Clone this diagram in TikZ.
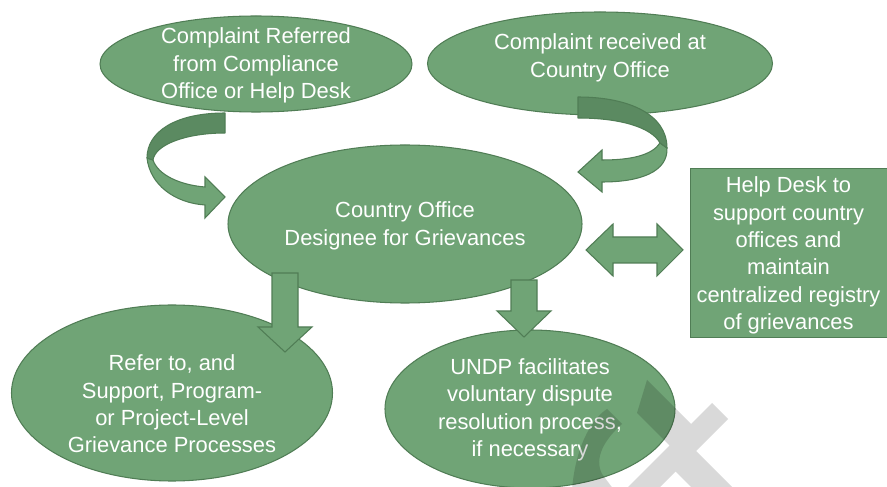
\documentclass[tikz,border=0pt]{standalone}
\usepackage{fontspec}
\setmainfont{Liberation Sans}
\usetikzlibrary{shapes.geometric}
\definecolor{gfill}{HTML}{70A476}
\definecolor{gline}{HTML}{507D55}
\definecolor{gdark}{HTML}{5B8A61}
\tikzset{
  bubble/.style={ellipse, draw=gline, fill=gfill, line width=0.9pt, inner sep=0pt},
  boxnode/.style={rectangle, draw=gline, fill=gfill, line width=0.9pt, inner sep=0pt},
  lbl/.style={text=white, align=center, font=\fontsize{18.7}{23.4}\selectfont, inner sep=0pt},
  blockarrow/.style={draw=gline, fill=gfill, line width=0.9pt, line join=miter},
  ribbon/.style={draw=gline, fill=gdark, line width=0.9pt, line join=round},
  wmark/.style={fill=black, fill opacity=0.15},
}
\begin{document}
\begin{tikzpicture}[x=0.03cm,y=-0.03cm]
\clip (0,0) rectangle (887,487);
\fill[white] (0,0) rectangle (887,487);

% ellipses and box
\node[bubble, minimum width=312*0.03cm, minimum height=96*0.03cm] (e1) at (256,64) {};
\node[bubble, minimum width=345*0.03cm, minimum height=103*0.03cm] (e2) at (600,63.5) {};
\node[bubble, minimum width=354*0.03cm, minimum height=158*0.03cm] (ec) at (405,224) {};
\node[bubble, minimum width=321*0.03cm, minimum height=176*0.03cm] (el) at (172,393) {};
\node[bubble, minimum width=290*0.03cm, minimum height=158*0.03cm] (eu) at (530,409) {};
\node[boxnode, anchor=north west, minimum width=205*0.03cm, minimum height=169*0.03cm] (hd) at (690,168) {};

% curved arrow, left
\draw[blockarrow] (147,158) .. controls (150,185) and (175,203) .. (205,205)
  -- (205,218) -- (225,197) -- (205,177) -- (205,187)
  .. controls (180,185) and (158,175) .. (153,160) -- cycle;
\draw[ribbon] (225,113) .. controls (175,113) and (147,132) .. (147,158)
  -- (153,160) .. controls (155,145) and (185,133) .. (225,133) -- cycle;

% curved arrow, right
\draw[blockarrow] (667,148) .. controls (668,172) and (640,182) .. (602,182)
  -- (602,192) -- (578,172) -- (602,150) -- (602,160)
  .. controls (632,160) and (652,155) .. (660,143) -- cycle;
\draw[ribbon] (578,97) .. controls (630,97) and (667,115) .. (667,148)
  -- (660,143) .. controls (652,128) and (622,118) .. (578,118) -- cycle;

% down arrows
\draw[blockarrow] (272,273) -- (298,273) -- (298,327) -- (312,327) -- (285,352)
  -- (258,327) -- (272,327) -- cycle;
\draw[blockarrow] (511,280) -- (537,280) -- (537,311) -- (551,311) -- (524,337)
  -- (497,311) -- (511,311) -- cycle;

% double arrow
\draw[blockarrow] (586,250) -- (613,224) -- (613,237) -- (657,237) -- (657,224)
  -- (683,250) -- (657,276) -- (657,263) -- (613,263) -- (613,276) -- cycle;

% labels
\node[lbl] (t1) at (256,65.5) {Complaint Referred\\from Compliance\\Office or Help Desk};
\node[lbl] (t2) at (600,58) {Complaint received at\\Country Office};
\node[lbl] (tc) at (405,226) {Country Office\\Designee for Grievances};
\node[lbl] (th) at (788.5,255.5) {Help Desk to\\support country\\offices and\\maintain\\centralized registry\\of grievances};
\node[lbl] (tl) at (172,404) {Refer to, and\\Support, Program-\\or Project-Level\\Grievance Processes};
\node[lbl] (tu) at (530,410) {UNDP facilitates\\voluntary dispute\\resolution process,\\if necessary};

% watermark fragment
\fill[wmark]
  (712,403) -- (728,419) -- (657,490) -- (625,490) -- cycle
  (647,380) -- (696,429) -- (674.5,450.5) -- (637,413) -- cycle
  (691,446) -- (735,490) -- (694,490) -- (670.5,466.5) -- cycle
  (572,490) .. controls (575,450) and (590,420) .. (607,409) -- (622,424)
    .. controls (604,440) and (594,458) .. (602,474) -- (614,490) -- cycle;
\end{tikzpicture}
\end{document}
